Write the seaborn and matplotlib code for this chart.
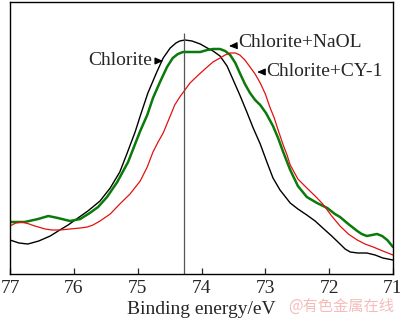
import matplotlib
matplotlib.use("Agg")
import matplotlib.pyplot as plt
import seaborn as sns
import pandas as pd

# Binding energy (eV) and intensity (a.u.) for each sample
chlorite_ev = [77.00, 76.86, 76.72, 76.55, 76.37, 76.22, 76.09, 75.98, 75.78, 75.59,
               75.43, 75.28, 75.17, 75.04, 74.96, 74.84, 74.70, 74.60, 74.49, 74.40,
               74.34, 74.26, 74.15, 74.02, 73.91, 73.82, 73.71, 73.60, 73.51, 73.40,
               73.29, 73.19, 73.08, 72.97, 72.88, 72.77, 72.61, 72.49, 72.35, 72.22,
               72.10, 71.96, 71.83, 71.75, 71.67, 71.55, 71.41, 71.28, 71.16, 71.00]
chlorite_int = [34, 31, 30, 33, 38, 44, 49, 54, 63, 73,
                86, 102, 120, 142, 158, 181, 202, 216, 226, 231,
                233, 234, 233, 230, 226, 223, 218, 208, 195, 179,
                162, 146, 130, 111, 96, 84, 71, 65, 59, 53,
                46, 38, 30, 25, 22, 21, 21, 19, 16, 14]

naol_ev = [77.00, 76.77, 76.56, 76.40, 76.25, 76.06, 75.90, 75.75, 75.62, 75.48,
           75.32, 75.15, 75.04, 74.96, 74.85, 74.76, 74.65, 74.54, 74.45, 74.37,
           74.29, 74.15, 74.02, 73.91, 73.82, 73.71, 73.63, 73.55, 73.47, 73.40,
           73.32, 73.24, 73.16, 73.08, 72.99, 72.88, 72.80, 72.72, 72.61, 72.49,
           72.35, 72.19, 72.03, 71.91, 71.83, 71.70, 71.56, 71.49, 71.41, 71.33,
           71.25, 71.17, 71.09, 71.00]
naol_int = [52, 52, 55, 58, 56, 53, 55, 61, 67, 77,
            92, 112, 130, 143, 159, 176, 192, 207, 216, 220,
            222, 222, 222, 224, 225, 225, 223, 219, 211, 201,
            190, 181, 174, 169, 161, 148, 136, 122, 104, 88,
            77, 71, 66, 60, 57, 50, 43, 40, 38, 39,
            40, 38, 34, 27]

cy1_ev = [77.00, 76.91, 76.81, 76.70, 76.61, 76.45, 76.34, 76.22, 76.06, 75.90,
          75.79, 75.70, 75.59, 75.43, 75.28, 75.12, 74.96, 74.85, 74.76, 74.68,
          74.60, 74.49, 74.42, 74.34, 74.26, 74.18, 74.05, 73.91, 73.82, 73.71,
          73.63, 73.55, 73.47, 73.40, 73.32, 73.24, 73.16, 73.08, 73.00, 72.93,
          72.86, 72.80, 72.72, 72.66, 72.61, 72.49, 72.35, 72.22, 72.10, 71.96,
          71.83, 71.70, 71.56, 71.44, 71.31, 71.16, 71.00]
cy1_int = [48, 51, 52, 50, 48, 45, 44, 44, 45, 46,
           47, 49, 53, 60, 70, 80, 93, 107, 122, 132,
           141, 158, 169, 177, 184, 191, 199, 207, 212, 216,
           219, 221, 221, 219, 214, 207, 200, 191, 180, 167,
           156, 144, 129, 119, 109, 95, 86, 78, 70, 58,
           48, 40, 34, 30, 27, 23, 19]

series_names = ["Chlorite", "Chlorite+NaOL", "Chlorite+CY-1"]
x_ticks = [77, 76, 75, 74, 73, 72, 71]
ref_line_ev = 74.27

df = pd.concat([
    pd.DataFrame({"ev": chlorite_ev, "intensity": chlorite_int, "sample": series_names[0]}),
    pd.DataFrame({"ev": naol_ev, "intensity": naol_int, "sample": series_names[1]}),
    pd.DataFrame({"ev": cy1_ev, "intensity": cy1_int, "sample": series_names[2]}),
])

sns.set_style("ticks")
plt.rcParams["font.family"] = ["Liberation Serif", "DejaVu Serif"]

fig = plt.figure(figsize=(4.00, 3.21), dpi=100)
ax = fig.add_axes([0.025, 0.1464, 0.9575, 0.8474])

styles = {
    series_names[0]: ("#000000", 1.0),
    series_names[1]: ("#0a7a0a", 1.8),
    series_names[2]: ("#e41010", 0.9),
}
for name in series_names:
    color, lw = styles[name]
    sns.lineplot(data=df[df["sample"] == name], x="ev", y="intensity",
                 color=color, linewidth=lw, ax=ax, legend=False)

ax.vlines(ref_line_ev, 0, 241, color="#555555", linewidth=0.9)

ax.set_xlim(77, 71)
ax.set_ylim(0, 272)
ax.set_xticks(x_ticks)
ax.set_xticklabels([str(t) for t in x_ticks], fontsize=14)
ax.set_yticks([])
ax.tick_params(axis="x", direction="in", length=4, width=0.9, pad=4)
for sp in ax.spines.values():
    sp.set_linewidth(1.0)
    sp.set_color("#000000")
ax.set_xlabel("Binding energy/eV", fontsize=14, labelpad=3)
ax.set_ylabel("")

arrow = dict(arrowstyle="-|>,head_length=0.35,head_width=0.15", color="black",
             linewidth=0.8, shrinkA=0, shrinkB=0)
ax.annotate(series_names[0], xy=(74.60, 213), xytext=(74.77, 213),
            ha="right", va="center", fontsize=14, arrowprops=arrow)
ax.annotate(series_names[1], xy=(73.57, 228), xytext=(73.42, 231),
            ha="left", va="center", fontsize=14, arrowprops=arrow)
ax.annotate(series_names[2], xy=(73.13, 202), xytext=(72.98, 202),
            ha="left", va="center", fontsize=14, arrowprops=arrow)

fig.text(0.985, 0.045, "@有色金属在线", ha="right", va="center", fontsize=11,
         color="#f5bcbc", family=["Noto Sans CJK SC", "DejaVu Sans"])

fig.savefig("out.png", dpi=100)
